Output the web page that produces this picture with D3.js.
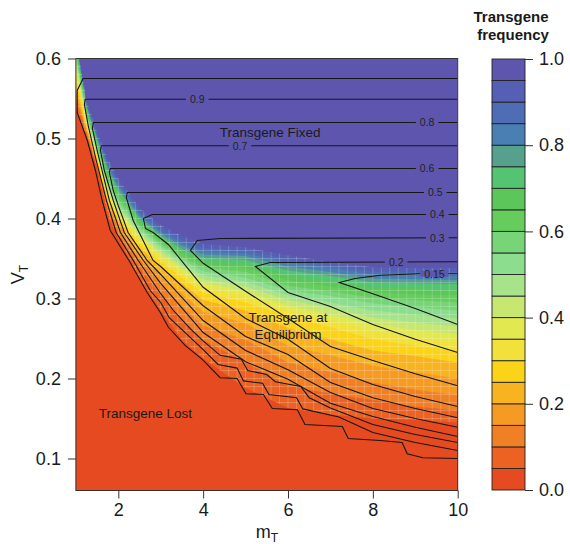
<!DOCTYPE html>
<html>
<head>
<meta charset="utf-8">
<script src="https://cdn.jsdelivr.net/npm/d3@7/dist/d3.min.js"></script>
<style>
  body { margin: 0; background: #fff; }
  text { font-family: "Liberation Sans", Arial, Helvetica, sans-serif; }
</style>
</head>
<body>
<div id="chart"></div>
<script>
// m_T columns at which the frequency band edges were read.
const mCols = [1, 1.25, 1.5, 1.75, 2, 2.5, 3, 3.5, 4, 5, 6, 7, 8, 9, 10];

// Frequency levels of the filled bands.
const freqBreaks = [0.05, 0.1, 0.15, 0.2, 0.25, 0.3, 0.35, 0.4, 0.45, 0.5,
                    0.55, 0.6, 0.65, 0.7, 0.75, 0.8, 0.85, 0.9, 0.95];

// V_T at which the transgene frequency reaches each break (one row per break, one value per column).
const isoV = [
  [.539, .503, .463, .404, .375, .325, .285, .248, .225, .188, .163, .155, .150, .148, .145],
  [.548, .506, .465, .409, .381, .339, .303, .275, .248, .220, .191, .181, .173, .165, .160],
  [.554, .509, .468, .414, .388, .349, .318, .291, .266, .248, .220, .208, .195, .186, .179],
  [.560, .511, .470, .418, .393, .356, .330, .306, .283, .269, .241, .229, .216, .208, .200],
  [.568, .514, .473, .423, .398, .364, .340, .319, .298, .285, .263, .249, .235, .228, .220],
  [.578, .516, .475, .426, .401, .369, .346, .326, .307, .295, .278, .264, .249, .241, .235],
  [.585, .519, .478, .430, .405, .374, .351, .332, .313, .303, .285, .273, .259, .251, .245],
  [.590, .521, .480, .434, .409, .378, .355, .337, .319, .309, .291, .280, .268, .261, .255],
  [.595, .524, .483, .438, .413, .381, .359, .341, .324, .315, .298, .288, .276, .270, .265],
  [.600, .526, .485, .441, .416, .385, .363, .345, .329, .321, .304, .295, .285, .280, .275],
  [.604, .529, .488, .445, .420, .388, .366, .349, .334, .326, .310, .303, .294, .289, .285],
  [.608, .531, .490, .449, .424, .391, .369, .352, .339, .333, .316, .309, .301, .298, .295],
  [.611, .534, .493, .453, .428, .394, .372, .356, .343, .338, .323, .315, .308, .305, .304],
  [.615, .536, .495, .456, .431, .397, .375, .359, .347, .343, .329, .321, .314, .313, .311],
  [.619, .539, .498, .460, .435, .400, .378, .362, .351, .348, .335, .328, .320, .319, .318],
  [.621, .541, .500, .464, .439, .403, .381, .366, .355, .353, .340, .333, .325, .324, .323],
  [.624, .543, .503, .468, .443, .406, .384, .369, .359, .356, .345, .338, .330, .329, .328],
  [.626, .545, .505, .471, .446, .409, .388, .373, .363, .360, .349, .341, .334, .333, .333],
  [.629, .548, .508, .475, .450, .413, .392, .378, .368, .364, .354, .346, .339, .338, .338]
];

// One colour per band, from 0-0.05 up to 0.95-1.
const bandColors = ['#E64A20', '#EB6223', '#F08026', '#F59B24', '#F8B420', '#FBD419', '#F2E13A',
                    '#E2E850', '#C8E770', '#A6E38A', '#8CDD8E', '#78D577', '#66CC5C', '#5CC65A',
                    '#54C372', '#56A08E', '#4A7FB3', '#4F6DB5', '#5560B5', '#5E56AE'];

// Contour lines of the second quantity, as [m_T, V_T] points.
const contourLabels = ['', '0.9', '0.8', '0.7', '0.6', '0.5', '0.4', '0.3', '0.2', '0.15'];
const contourPaths = [
  [[10, .575], [1.17, .575], [1.03, .56], [1.03, .5325], [1.27, .4975], [1.46, .46], [1.62, .4225],
   [1.81, .385], [2.28, .345], [2.68, .3075], [2.99, .2825], [3.18, .264], [3.58, .241], [3.98, .224],
   [4.4, .201], [4.8, .2], [5.01, .181], [5.42, .18], [5.63, .1625], [6.22, .161], [6.4, .1425],
   [7.28, .14], [7.42, .125], [8.17, .1225], [8.69, .12], [8.81, .106], [9.18, .101], [10, .1]],
  [[10, .549], [1.22, .549], [1.2, .5425], [1.29, .516], [1.48, .4725], [1.72, .4225], [1.95, .3825],
   [2.38, .345], [2.75, .31], [3, .295], [3.2, .276], [3.6, .256], [4, .236], [4.35, .2175], [4.8, .213],
   [4.95, .197], [5.4, .194], [5.55, .18], [6.2, .176], [6.35, .162], [7.2, .152], [8, .1325], [9, .12], [10, .11]],
  [[10, .52], [1.41, .52], [1.39, .5125], [1.5, .485], [1.79, .4225], [2.05, .3825], [2.47, .3475],
   [3, .306], [3.3, .285], [3.7, .262], [4, .247], [4.4, .229], [4.9, .224], [5.05, .21], [5.5, .205],
   [5.7, .196], [6.3, .19], [6.5, .176], [7, .163], [8, .1425], [9, .13], [10, .12]],
  [[10, .491], [1.6, .491], [1.58, .485], [1.67, .46], [1.88, .4225], [2.14, .3825], [2.59, .3475],
   [3, .319], [4, .2575], [5, .221], [6, .199], [7, .169], [8, .1525], [9, .139], [10, .1275]],
  [[10, .4625], [1.81, .4625], [1.79, .4575], [1.88, .435], [2, .416], [2.23, .3825], [2.68, .3475],
   [3, .33], [4, .2725], [5, .235], [6, .211], [7, .1825], [8, .1625], [9, .15], [10, .139]],
  [[10, .4325], [2.21, .4325], [2.19, .426], [2.35, .3975], [2.82, .3475], [3, .34], [4, .291],
   [5, .2525], [6, .23], [7, .195], [8, .176], [9, .1625], [10, .151]],
  [[10, .405], [2.8, .405], [2.59, .4], [2.64, .3875], [2.82, .3825], [3.18, .3675], [4, .314],
   [5, .275], [6, .249], [7, .2125], [8, .1925], [9, .1775], [10, .165]],
  [[10, .376], [4.4, .375], [3.86, .3725], [3.7, .36], [4, .344], [5, .309], [6, .275], [7, .24],
   [8, .2225], [9, .206], [10, .191]],
  [[10, .346], [5.58, .345], [5.23, .34], [6, .3075], [7, .29], [8, .2675], [9, .249], [10, .2325]],
  [[10, .331], [9.1, .331], [8.17, .329], [7.58, .325], [7.21, .32], [8, .306], [9, .2875], [10, .2675]]
];
// m_T where each contour label sits on its upper branch.
const labelM = [null, 3.86, 9.28, 4.87, 9.28, 9.47, 9.52, 9.52, 8.55, 9.45];

const xTicks = [2, 4, 6, 8, 10];
const yTicks = [0.1, 0.2, 0.3, 0.4, 0.5, 0.6];
const legendTicks = [0, 0.2, 0.4, 0.6, 0.8, 1];

const notes = [
  {lines: ['Transgene Fixed'], m: 5.58, v: 0.5025},
  {lines: ['Transgene at', 'Equilibrium'], m: 6.0, v: 0.2705},
  {lines: ['Transgene Lost'], m: 2.64, v: 0.151}
];

// ---------------------------------------------------------------
const width = 570, height = 544;
const svg = d3.select('#chart').append('svg')
    .attr('width', width)
    .attr('height', height);

const x = d3.scaleLinear().domain([1, 10]).range([75.9, 457.7]);
const y = d3.scaleLinear().domain([0.06, 0.6]).range([490.5, 58.5]);

const defs = svg.append('defs');
defs.append('clipPath').attr('id', 'plotClip')
  .append('rect')
    .attr('x', x(1)).attr('y', y(0.6))
    .attr('width', x(10) - x(1)).attr('height', y(0.06) - y(0.6));

// Transition zone between the 0.05 and 0.95 edges, used to clip the cell seams.
const zoneArea = d3.area()
    .x((d, i) => x(mCols[i]))
    .y0((d, i) => y(isoV[0][i]))
    .y1((d, i) => y(isoV[isoV.length - 1][i]));
defs.append('clipPath').attr('id', 'zoneClip')
  .append('path')
    .attr('d', zoneArea(mCols));

const plot = svg.append('g').attr('clip-path', 'url(#plotClip)');

// Top band covers everything, then each lower band is painted from the bottom up to its edge.
plot.append('rect')
    .attr('x', x(1)).attr('y', y(0.6))
    .attr('width', x(10) - x(1)).attr('height', y(0.06) - y(0.6))
    .attr('fill', bandColors[19]);

for (let k = isoV.length - 1; k >= 0; k--) {
  const band = d3.area()
      .x((d, i) => x(mCols[i]))
      .y0(y(0.06))
      .y1((d, i) => y(isoV[k][i]));
  plot.append('path')
      .attr('d', band(mCols))
      .attr('fill', bandColors[k]);
}

// Faint white cell seams in the transition zone.
const seams = plot.append('g')
    .attr('clip-path', 'url(#zoneClip)')
    .attr('stroke', '#fff')
    .attr('stroke-opacity', 0.25)
    .attr('stroke-width', 0.8);
d3.range(1, 10.001, 0.2).forEach(m => {
  seams.append('line')
      .attr('x1', x(m)).attr('x2', x(m))
      .attr('y1', y(0.06)).attr('y2', y(0.6));
});
d3.range(0.06, 0.6001, 0.01).forEach(v => {
  seams.append('line')
      .attr('x1', x(1)).attr('x2', x(10))
      .attr('y1', y(v)).attr('y2', y(v));
});

// Contour lines.
const line = d3.line().x(d => x(d[0])).y(d => y(d[1]));
contourPaths.forEach(pts => {
  plot.append('path')
      .attr('d', line(pts))
      .attr('fill', 'none')
      .attr('stroke', '#161616')
      .attr('stroke-width', 1.1);
});

// Contour labels sit in a gap of their line.
contourPaths.forEach((pts, i) => {
  if (!contourLabels[i]) return;
  const lx = x(labelM[i]);
  const ly = y(pts[0][1]);
  const t = plot.append('text')
      .attr('x', lx).attr('y', ly + 3.8)
      .attr('text-anchor', 'middle')
      .attr('font-size', '10.5px')
      .attr('fill', '#222')
      .text(contourLabels[i]);
  const w = t.node().getComputedTextLength() + 8;
  plot.insert('rect', () => t.node())
      .attr('x', lx - w / 2).attr('y', ly - 3)
      .attr('width', w).attr('height', 6)
      .attr('fill', bandColors[19]);
});

// Region notes.
notes.forEach(n => {
  const t = svg.append('text')
      .attr('x', x(n.m)).attr('y', y(n.v))
      .attr('text-anchor', 'middle')
      .attr('font-size', '13.5px')
      .attr('fill', '#1a1a1a');
  n.lines.forEach((s, i) => {
    t.append('tspan').attr('x', x(n.m)).attr('dy', i ? 17 : 0).text(s);
  });
});

// Frame.
svg.append('rect')
    .attr('x', x(1)).attr('y', y(0.6))
    .attr('width', x(10) - x(1)).attr('height', y(0.06) - y(0.6))
    .attr('fill', 'none')
    .attr('stroke', '#333')
    .attr('stroke-width', 1);

// Axes.
const xAxis = svg.append('g')
    .attr('transform', `translate(0,${y(0.06)})`)
    .call(d3.axisBottom(x).tickValues(xTicks).tickFormat(d3.format('d')).tickSize(8).tickPadding(5));
const yAxis = svg.append('g')
    .attr('transform', `translate(${x(1)},0)`)
    .call(d3.axisLeft(y).tickValues(yTicks).tickFormat(d3.format('.1f')).tickSize(8).tickPadding(7));
[xAxis, yAxis].forEach(g => {
  g.select('.domain').remove();
  g.selectAll('line').attr('stroke', '#333');
  g.selectAll('text')
      .attr('font-family', '"Liberation Sans", Arial, sans-serif')
      .attr('font-size', '18px')
      .attr('fill', '#1a1a1a');
});

// Axis titles.
const xTitle = svg.append('text')
    .attr('x', (x(1) + x(10)) / 2).attr('y', 538)
    .attr('text-anchor', 'middle')
    .attr('font-size', '18px')
    .attr('fill', '#1a1a1a')
    .text('m');
xTitle.append('tspan').attr('font-size', '12px').attr('dy', 4).text('T');

const yTitle = svg.append('text')
    .attr('transform', `translate(24,${(y(0.06) + y(0.6)) / 2}) rotate(-90)`)
    .attr('text-anchor', 'middle')
    .attr('font-size', '18px')
    .attr('fill', '#1a1a1a')
    .text('V');
yTitle.append('tspan').attr('font-size', '12px').attr('dy', 4).text('T');

// Colour key.
const ly = d3.scaleLinear().domain([0, 1]).range([490, 59]);
const key = svg.append('g');
bandColors.forEach((c, k) => {
  key.append('rect')
      .attr('x', 492).attr('y', ly((k + 1) * 0.05))
      .attr('width', 33).attr('height', ly(k * 0.05) - ly((k + 1) * 0.05))
      .attr('fill', c)
      .attr('stroke', '#222')
      .attr('stroke-width', 0.9);
});
const keyAxis = svg.append('g')
    .attr('transform', 'translate(525,0)')
    .call(d3.axisRight(ly).tickValues(legendTicks).tickFormat(d3.format('.1f')).tickSize(8).tickPadding(6));
keyAxis.select('.domain').remove();
keyAxis.selectAll('line').attr('stroke', '#333');
keyAxis.selectAll('text')
    .attr('font-family', '"Liberation Sans", Arial, sans-serif')
    .attr('font-size', '18px')
    .attr('fill', '#1a1a1a');

svg.append('text')
    .attr('x', 511).attr('y', 22)
    .attr('text-anchor', 'middle')
    .attr('font-size', '15px')
    .attr('font-weight', 'bold')
    .attr('fill', '#1a1a1a')
    .text('Transgene');
svg.append('text')
    .attr('x', 513).attr('y', 40)
    .attr('text-anchor', 'middle')
    .attr('font-size', '15px')
    .attr('font-weight', 'bold')
    .attr('fill', '#1a1a1a')
    .text('frequency');
</script>
</body>
</html>
